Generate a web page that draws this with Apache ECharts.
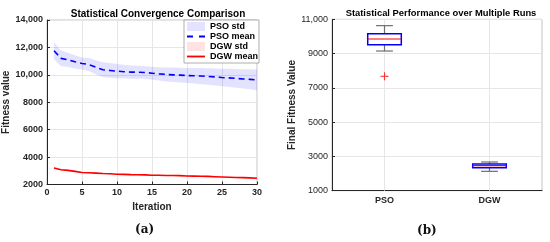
<!DOCTYPE html>
<html>
<head>
<meta charset="utf-8">
<script src="https://cdn.jsdelivr.net/npm/echarts@6/dist/echarts.min.js"></script>
<style>
  html, body { margin: 0; padding: 0; background: #fff; }
  #chart { width: 550px; height: 242px; }
</style>
</head>
<body>
<div id="chart"></div>
<script>
// (a) convergence curves, iterations 1..30
const iterations = [1, 2, 3, 4, 5, 6, 7, 8, 9, 10, 11, 12, 13, 14, 15,
  16, 17, 18, 19, 20, 21, 22, 23, 24, 25, 26, 27, 28, 29, 30]
const psoMean = [11760, 11200, 11100, 10950, 10830, 10750, 10550, 10370, 10320, 10270,
  10230, 10200, 10190, 10170, 10120, 10070, 10030, 10000, 9980, 9950,
  9930, 9910, 9880, 9850, 9800, 9780, 9740, 9700, 9670, 9630]
const psoStd = [620, 580, 520, 480, 440, 470, 520, 550, 540, 520,
  500, 480, 470, 460, 470, 490, 510, 530, 540, 550,
  570, 590, 600, 620, 640, 660, 680, 700, 730, 760]
const dgwMean = [3200, 3080, 3030, 2960, 2880, 2860, 2830, 2800, 2780, 2750,
  2740, 2720, 2710, 2700, 2680, 2670, 2660, 2660, 2650, 2620,
  2610, 2600, 2590, 2570, 2550, 2530, 2510, 2500, 2480, 2460]
const dgwStd = [50, 45, 45, 40, 40, 40, 40, 40, 40, 40,
  40, 40, 40, 40, 40, 40, 40, 40, 40, 40,
  40, 40, 40, 40, 40, 40, 40, 40, 40, 40]

// (b) box plot of final fitness
const boxCats = ['PSO', 'DGW']
const boxLow = [9150, 2130]
const boxQ1 = [9520, 2340]
const boxMedian = [9850, 2460]
const boxQ3 = [10160, 2560]
const boxHigh = [10630, 2675]
const outliers = [[0, 7675]]

const BOLD = 'bold'
const FONT = 'Liberation Sans, Arial, sans-serif'
const DARK = '#262626'
const PSO_FILL = 'rgba(0,0,255,0.11)'
const DGW_FILL = 'rgba(255,0,0,0.11)'

const fmtComma = (v) => v >= 10000 ? String(v).replace(/\B(?=(\d{3})+(?!\d))/g, ',') : String(v)

// whole band polygon, built once from the arrays through api.coord
const bandSeries = (name, mean, std, fill) => ({
  name, type: 'custom', xAxisIndex: 0, yAxisIndex: 0, z: 1,
  itemStyle: { color: fill },
  data: iterations.map((x, i) => [x, mean[i] - std[i], mean[i] + std[i]]),
  encode: { x: 0, y: [1, 2] },
  renderItem: (params, api) => {
    if (params.dataIndex !== 0) return
    const upper = iterations.map((x, i) => api.coord([x, mean[i] + std[i]]))
    const lower = iterations.map((x, i) => api.coord([x, mean[i] - std[i]])).reverse()
    return {
      type: 'polygon',
      shape: { points: upper.concat(lower) },
      style: { fill, stroke: 'none' }
    }
  }
})

const chart = echarts.init(document.getElementById('chart'), null, { renderer: 'canvas' })

const option = {
  animation: false,
  textStyle: { fontFamily: FONT },
  title: [
    {
      text: 'Statistical Convergence Comparison',
      left: 153, top: 4, textAlign: 'center',
      textStyle: { fontSize: 10, fontWeight: BOLD, color: '#000', fontFamily: FONT }
    },
    {
      text: 'Statistical Performance over Multiple Runs',
      left: 436, top: 4, textAlign: 'center',
      textStyle: { fontSize: 9.4, fontWeight: BOLD, color: '#000', fontFamily: FONT }
    }
  ],
  legend: {
    left: 184, top: 20,
    orient: 'vertical',
    itemGap: 1,
    itemWidth: 18, itemHeight: 9,
    symbolKeepAspect: true,
    padding: [2, 1, 2, 3],
    backgroundColor: '#fff',
    borderColor: '#9a9a9a', borderWidth: 0.8, borderRadius: 0,
    textStyle: { fontSize: 9, fontWeight: BOLD, color: '#000', fontFamily: FONT },
    data: [
      { name: 'PSO std', icon: 'rect', itemStyle: { color: PSO_FILL } },
      { name: 'PSO mean', icon: 'path://M0,0h6v1.8h-6z M12,0h6v1.8h-6z', itemStyle: { color: '#0000ff' } },
      { name: 'DGW std', icon: 'rect', itemStyle: { color: DGW_FILL } },
      { name: 'DGW mean', icon: 'path://M0,0h18v1.8h-18z', itemStyle: { color: '#ff0000' } }
    ]
  },
  grid: [
    { left: 47, right: 293, top: 20, bottom: 57.5, show: true, borderColor: '#c4c4c4', borderWidth: 1, outerBoundsMode: 'none' },
    { left: 332, right: 8, top: 19.3, bottom: 51.3, show: true, borderColor: '#c4c4c4', borderWidth: 1, outerBoundsMode: 'none' }
  ],
  xAxis: [
    {
      gridIndex: 0, type: 'value', min: 0, max: 30, interval: 5,
      name: 'Iteration', nameLocation: 'middle', nameGap: 18,
      nameTextStyle: { fontSize: 10, fontWeight: BOLD, color: DARK },
      axisLine: { lineStyle: { color: DARK, width: 1 } },
      axisTick: { inside: true, length: 3, lineStyle: { color: DARK } },
      axisLabel: { fontSize: 9, fontWeight: BOLD, color: DARK, margin: 4 },
      splitLine: { lineStyle: { color: '#e6e6e6', width: 1 } }
    },
    {
      gridIndex: 1, type: 'category', data: boxCats, boundaryGap: true,
      axisLine: { lineStyle: { color: DARK, width: 1 } },
      axisTick: { inside: true, length: 3, alignWithLabel: true, lineStyle: { color: DARK } },
      axisLabel: { fontSize: 9, fontWeight: BOLD, color: DARK, margin: 5 },
      splitLine: { show: false }
    }
  ],
  yAxis: [
    {
      gridIndex: 0, type: 'value', min: 2000, max: 14000, interval: 2000,
      name: 'Fitness value', nameLocation: 'middle', nameGap: 28,
      nameTextStyle: { fontSize: 10, fontWeight: BOLD, color: DARK },
      axisLine: { show: true, lineStyle: { color: DARK, width: 1 } },
      axisTick: { show: true, inside: true, length: 3, lineStyle: { color: DARK } },
      axisLabel: { fontSize: 9, fontWeight: BOLD, color: DARK, margin: 4, formatter: fmtComma },
      splitLine: { lineStyle: { color: '#e6e6e6', width: 1 } }
    },
    {
      gridIndex: 1, type: 'value', min: 1000, max: 11000, interval: 2000,
      name: 'Final Fitness Value', nameLocation: 'middle', nameGap: 30,
      nameTextStyle: { fontSize: 10, fontWeight: BOLD, color: DARK },
      axisLine: { show: true, lineStyle: { color: DARK, width: 1 } },
      axisTick: { show: true, inside: true, length: 3, lineStyle: { color: DARK } },
      axisLabel: { fontSize: 9, color: DARK, margin: 4, formatter: fmtComma },
      splitLine: { lineStyle: { color: '#e6e6e6', width: 1 } }
    }
  ],
  series: [
    bandSeries('PSO std', psoMean, psoStd, PSO_FILL),
    bandSeries('DGW std', dgwMean, dgwStd, DGW_FILL),
    {
      name: 'PSO mean', type: 'line', xAxisIndex: 0, yAxisIndex: 0, z: 3,
      data: iterations.map((x, i) => [x, psoMean[i]]), symbol: 'none',
      itemStyle: { color: '#0000ff' },
      lineStyle: { color: '#0000ff', width: 1.6, type: [6, 4] }
    },
    {
      name: 'DGW mean', type: 'line', xAxisIndex: 0, yAxisIndex: 0, z: 3,
      data: iterations.map((x, i) => [x, dgwMean[i]]), symbol: 'none',
      itemStyle: { color: '#ff0000' },
      lineStyle: { color: '#ff0000', width: 1.6 }
    },
    // vertical grid lines at the box positions
    {
      name: 'xgrid', type: 'line', xAxisIndex: 1, yAxisIndex: 1, data: [], z: 1,
      markLine: {
        silent: true, symbol: 'none', label: { show: false }, z: 1,
        lineStyle: { color: '#e6e6e6', type: 'solid', width: 1 },
        data: boxCats.map(c => ({ xAxis: c }))
      }
    },
    // box plot drawn through the category/value scales
    {
      name: 'box', type: 'custom', xAxisIndex: 1, yAxisIndex: 1, z: 3,
      data: boxCats.map((c, i) => [i, boxLow[i], boxQ1[i], boxMedian[i], boxQ3[i], boxHigh[i]]),
      encode: { x: 0, y: [1, 2, 3, 4, 5] },
      renderItem: (params, api) => {
        const idx = api.value(0)
        const bw = api.size([1, 0])[0]
        const half = bw * 0.16
        const cap = half * 0.5
        const pLow = api.coord([idx, api.value(1)])
        const pQ1 = api.coord([idx, api.value(2)])
        const pMed = api.coord([idx, api.value(3)])
        const pQ3 = api.coord([idx, api.value(4)])
        const pHigh = api.coord([idx, api.value(5)])
        const cx = pMed[0]
        const whisk = { stroke: '#6e6e6e', lineWidth: 1.2 }
        return {
          type: 'group',
          children: [
            { type: 'line', shape: { x1: cx, y1: pHigh[1], x2: cx, y2: pQ3[1] }, style: whisk },
            { type: 'line', shape: { x1: cx, y1: pQ1[1], x2: cx, y2: pLow[1] }, style: whisk },
            { type: 'line', shape: { x1: cx - cap, y1: pHigh[1], x2: cx + cap, y2: pHigh[1] }, style: whisk },
            { type: 'line', shape: { x1: cx - cap, y1: pLow[1], x2: cx + cap, y2: pLow[1] }, style: whisk },
            {
              type: 'rect',
              shape: { x: cx - half, y: pQ3[1], width: half * 2, height: pQ1[1] - pQ3[1] },
              style: { fill: '#fff', stroke: '#0000ff', lineWidth: 1.5 }
            },
            { type: 'line', shape: { x1: cx - half, y1: pMed[1], x2: cx + half, y2: pMed[1] }, style: { stroke: '#ff0000', lineWidth: 1.2 } }
          ]
        }
      }
    },
    {
      name: 'outlier', type: 'custom', xAxisIndex: 1, yAxisIndex: 1,
      data: outliers, encode: { x: 0, y: 1 }, z: 6,
      renderItem: (params, api) => {
        const p = api.coord([api.value(0), api.value(1)])
        const s = 4
        const st = { stroke: '#ff3030', lineWidth: 1.1 }
        return {
          type: 'group',
          children: [
            { type: 'line', shape: { x1: p[0] - s, y1: p[1], x2: p[0] + s, y2: p[1] }, style: st },
            { type: 'line', shape: { x1: p[0], y1: p[1] - s, x2: p[0], y2: p[1] + s }, style: st }
          ]
        }
      }
    }
  ],
  graphic: [
    { type: 'text', left: 135, top: 224, style: { text: '(a)', font: 'bold 12px "DejaVu Serif", "Liberation Serif", serif', fill: '#111' } },
    { type: 'text', left: 417, top: 225, style: { text: '(b)', font: 'bold 12px "DejaVu Serif", "Liberation Serif", serif', fill: '#111' } }
  ]
}

chart.setOption(option)
</script>
</body>
</html>
